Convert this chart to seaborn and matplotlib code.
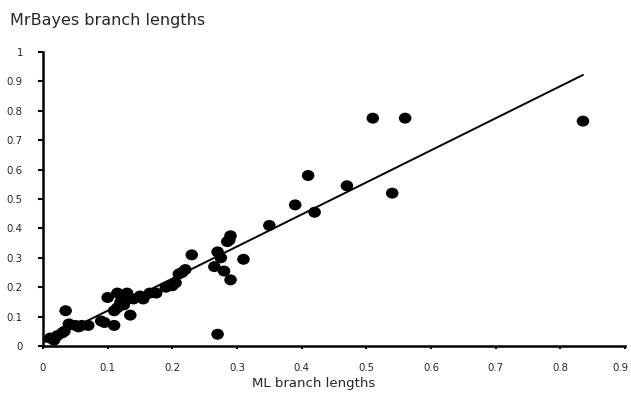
import numpy as np
import pandas as pd
import matplotlib
matplotlib.use("Agg")
import matplotlib.pyplot as plt
from matplotlib.path import Path
import matplotlib.transforms as mtrans
import seaborn as sns

ml_lengths = [0.011, 0.017, 0.022, 0.03, 0.033, 0.035, 0.04, 0.05, 0.055, 0.06,
              0.07, 0.09, 0.095, 0.1, 0.11, 0.115, 0.11, 0.115, 0.12, 0.125,
              0.13, 0.13, 0.135, 0.14, 0.15, 0.155, 0.165, 0.175, 0.19, 0.2,
              0.205, 0.21, 0.215, 0.22, 0.23, 0.265, 0.27, 0.27, 0.275, 0.28,
              0.285, 0.29, 0.29, 0.288, 0.31, 0.35, 0.39, 0.41, 0.42, 0.47,
              0.51, 0.54, 0.56, 0.835]
mb_lengths = [0.027, 0.02, 0.035, 0.045, 0.05, 0.12, 0.075, 0.07, 0.065, 0.07,
              0.07, 0.085, 0.08, 0.165, 0.12, 0.13, 0.07, 0.18, 0.15, 0.14,
              0.18, 0.16, 0.105, 0.16, 0.17, 0.16, 0.18, 0.18, 0.2, 0.205,
              0.215, 0.245, 0.25, 0.26, 0.31, 0.27, 0.32, 0.04, 0.3, 0.255,
              0.355, 0.375, 0.225, 0.36, 0.295, 0.41, 0.48, 0.58, 0.455, 0.545,
              0.775, 0.52, 0.775, 0.765]

trend_slope = 1.091
trend_intercept = 0.011

x_ticks = [0, 0.1, 0.2, 0.3, 0.4, 0.5, 0.6, 0.7, 0.8, 0.9]
x_tick_labels = ["0", "0.1", "0.2", "0.3", "0.4", "0.5", "0.6", "0.7", "0.8", "0.9"]
y_ticks = [0, 0.1, 0.2, 0.3, 0.4, 0.5, 0.6, 0.7, 0.8, 0.9, 1]
y_tick_labels = ["0", "0.1", "0.2", "0.3", "0.4", "0.5", "0.6", "0.7", "0.8", "0.9", "1"]

df = pd.DataFrame({"ml": ml_lengths, "mb": mb_lengths})

sns.set_style("ticks")
plt.rcParams['font.family'] = ['DejaVu Sans']

fig = plt.figure(figsize=(6.31, 3.95), dpi=100)
ax = fig.add_axes([43 / 631, 1 - 346 / 395, 582 / 631, 294 / 395])

sns.scatterplot(data=df, x="ml", y="mb", ax=ax, color="black", s=65,
                edgecolor="none", zorder=3)
ell = Path.unit_circle().transformed(mtrans.Affine2D().scale(0.56, 0.49))
for coll in ax.collections:
    coll.set_paths([ell])

xline = np.array([0.003, max(ml_lengths)])
ax.plot(xline, trend_intercept + trend_slope * xline, color="black", lw=1.4, zorder=2)

ax.set_xlim(0, 0.9)
ax.set_ylim(0, 1)
ax.set_xticks(x_ticks)
ax.set_xticklabels(x_tick_labels)
ax.set_yticks(y_ticks)
ax.set_yticklabels(y_tick_labels)
ax.tick_params(axis="both", labelsize=7.3, width=1.5, color="black", direction="out")
ax.tick_params(axis="x", length=2.5, pad=10)
ax.tick_params(axis="y", length=3.5, pad=11)
for side in ["left", "bottom"]:
    ax.spines[side].set_linewidth(1.8)
    ax.spines[side].set_color("black")
for side in ["top", "right"]:
    ax.spines[side].set_visible(False)
ax.set_xlabel("")
ax.set_ylabel("")

last = ax.get_xticklabels()[-1]
last.set_transform(last.get_transform() + mtrans.Affine2D().translate(-5, 0))

fig.text(10 / 631, 1 - 20 / 395, "MrBayes branch lengths", fontsize=11.5, va="center", ha="left")
fig.text(314 / 631, 1 - 384 / 395, "ML branch lengths", fontsize=9.5, va="center", ha="center")

fig.savefig("out.png", dpi=100)
